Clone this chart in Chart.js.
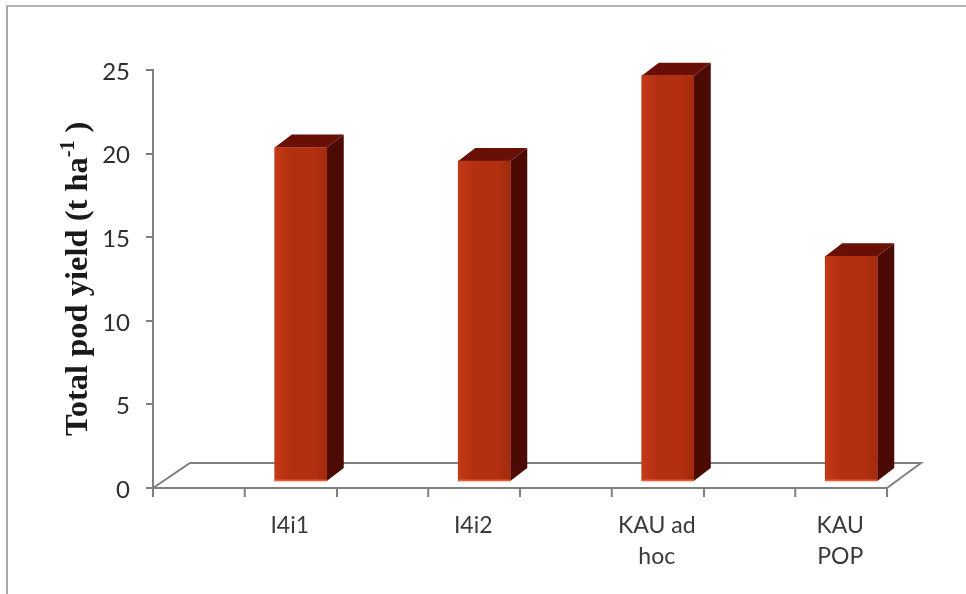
<!DOCTYPE html>
<html>
<head>
<meta charset="utf-8">
<title>Total pod yield</title>
<script src="https://cdn.jsdelivr.net/npm/chart.js@4"></script>
<style>
  html, body { margin: 0; padding: 0; background: #fff; }
  #wrap { position: relative; width: 966px; height: 594px; }
  #frame { position: absolute; left: 6px; top: 5px; right: 0; bottom: 0; border-left: 2px solid #a9a9a9; border-top: 2px solid #b4b4b4; }
</style>
</head>
<body>
<div id="wrap">
  <div id="frame"></div>
  <canvas id="yieldChart" width="966" height="594"></canvas>
</div>
<script>
const categories = ['I4i1', 'I4i2', ['KAU ad', 'hoc'], ['KAU', 'POP']];
const podYield = [20, 19.2, 24.3, 13.5];
const yTicks = [0, 5, 10, 15, 20, 25];

// column sits forward of the axis wall on the 3D floor
const SHIFT_X = 56, SHIFT_Y = -6;
const DEPTH_X = 17, DEPTH_Y = 13;
const AXIS_GREY = '#7f7f7f';

const column3d = {
  id: 'column3d',
  beforeDatasetsDraw(chart) {
    const { ctx, chartArea: a, scales: { x } } = chart;
    ctx.save();
    ctx.strokeStyle = AXIS_GREY;
    ctx.lineWidth = 2;
    // floor outline
    ctx.beginPath();
    ctx.moveTo(a.left, a.bottom);
    ctx.lineTo(a.left + 37, a.bottom - 25);
    ctx.lineTo(a.right + 34, a.bottom - 25);
    ctx.lineTo(a.right, a.bottom);
    ctx.stroke();
    // extra tick in the middle of each category
    categories.forEach((c, i) => {
      const px = x.getPixelForValue(i);
      ctx.beginPath();
      ctx.moveTo(px, a.bottom);
      ctx.lineTo(px, a.bottom + 9);
      ctx.stroke();
    });
    ctx.restore();
  },
  beforeDatasetDraw(chart) {
    const { ctx } = chart;
    ctx.save();
    ctx.translate(SHIFT_X, SHIFT_Y);
    chart.getDatasetMeta(0).data.forEach(bar => {
      const { x, y, base, width } = bar.getProps(['x', 'y', 'base', 'width'], true);
      const l = x - width / 2, r = x + width / 2;
      ctx.fillStyle = '#4c0a04';
      ctx.beginPath();
      ctx.moveTo(r, y);
      ctx.lineTo(r + DEPTH_X, y - DEPTH_Y);
      ctx.lineTo(r + DEPTH_X, base - DEPTH_Y);
      ctx.lineTo(r, base);
      ctx.closePath();
      ctx.fill();
      ctx.fillStyle = '#680f06';
      ctx.beginPath();
      ctx.moveTo(l, y);
      ctx.lineTo(l + DEPTH_X, y - DEPTH_Y);
      ctx.lineTo(r + DEPTH_X, y - DEPTH_Y);
      ctx.lineTo(r, y);
      ctx.closePath();
      ctx.fill();
    });
  },
  afterDatasetDraw(chart) {
    const { ctx } = chart;
    // soft shading across the front face, bright rim along the foot
    chart.getDatasetMeta(0).data.forEach(bar => {
      const { x, y, base, width } = bar.getProps(['x', 'y', 'base', 'width'], true);
      const l = x - width / 2;
      const g = ctx.createLinearGradient(l, 0, l + width, 0);
      g.addColorStop(0, 'rgba(255,90,50,0.22)');
      g.addColorStop(0.3, 'rgba(255,90,50,0)');
      g.addColorStop(0.75, 'rgba(0,0,0,0)');
      g.addColorStop(1, 'rgba(40,0,0,0.12)');
      ctx.fillStyle = g;
      ctx.fillRect(l, y, width, base - y);
      ctx.fillStyle = '#ee5a34';
      ctx.fillRect(l, base - 1.5, width, 1.5);
    });
    ctx.restore();
  }
};

// rotated axis title, written in runs so the exponent can be raised
const yTitle = {
  id: 'yTitle',
  afterDraw(chart) {
    const { ctx } = chart;
    ctx.save();
    ctx.translate(87, 436);
    ctx.rotate(-Math.PI / 2);
    ctx.fillStyle = '#1a1a1a';
    ctx.textAlign = 'left';
    ctx.textBaseline = 'alphabetic';
    let pos = 0;
    [['Total pod yield (t ha', 32.5, 0], ['-1', 20, -13], [' )', 32.5, 0]].forEach(([text, size, rise]) => {
      ctx.font = `bold ${size}px "Liberation Serif"`;
      ctx.fillText(text, pos, rise);
      pos += ctx.measureText(text).width;
    });
    ctx.restore();
  }
};

new Chart(document.getElementById('yieldChart'), {
  type: 'bar',
  data: {
    labels: categories,
    datasets: [{
      label: 'Total pod yield',
      data: podYield,
      backgroundColor: '#b3300f',
      borderWidth: 0,
      barThickness: 52
    }]
  },
  plugins: [column3d, yTitle],
  options: {
    responsive: false,
    animation: false,
    layout: { padding: { top: 70, right: 79, left: 0, bottom: 0 } },
    plugins: { legend: { display: false }, tooltip: { enabled: false } },
    scales: {
      x: {
        afterFit(scale) { scale.height = 106; },
        border: { color: AXIS_GREY, width: 2 },
        grid: { offset: true, drawOnChartArea: false, color: AXIS_GREY, lineWidth: 2, tickLength: 9 },
        ticks: {
          color: '#3a3a3a',
          font: { family: 'Lato', size: 23, lineHeight: 1.35 },
          maxRotation: 0,
          labelOffset: 45,
          padding: 13
        }
      },
      y: {
        min: 0,
        max: 25,
        afterFit(scale) { scale.width = 153; },
        afterBuildTicks(scale) { scale.ticks = yTicks.map(value => ({ value })); },
        border: { color: AXIS_GREY, width: 2 },
        grid: { drawOnChartArea: false, color: AXIS_GREY, lineWidth: 2, tickLength: 7 },
        ticks: {
          color: '#2e2e2e',
          font: { family: 'Lato', size: 24 },
          labelOffset: 2,
          padding: 16
        }
      }
    }
  }
});
</script>
</body>
</html>
